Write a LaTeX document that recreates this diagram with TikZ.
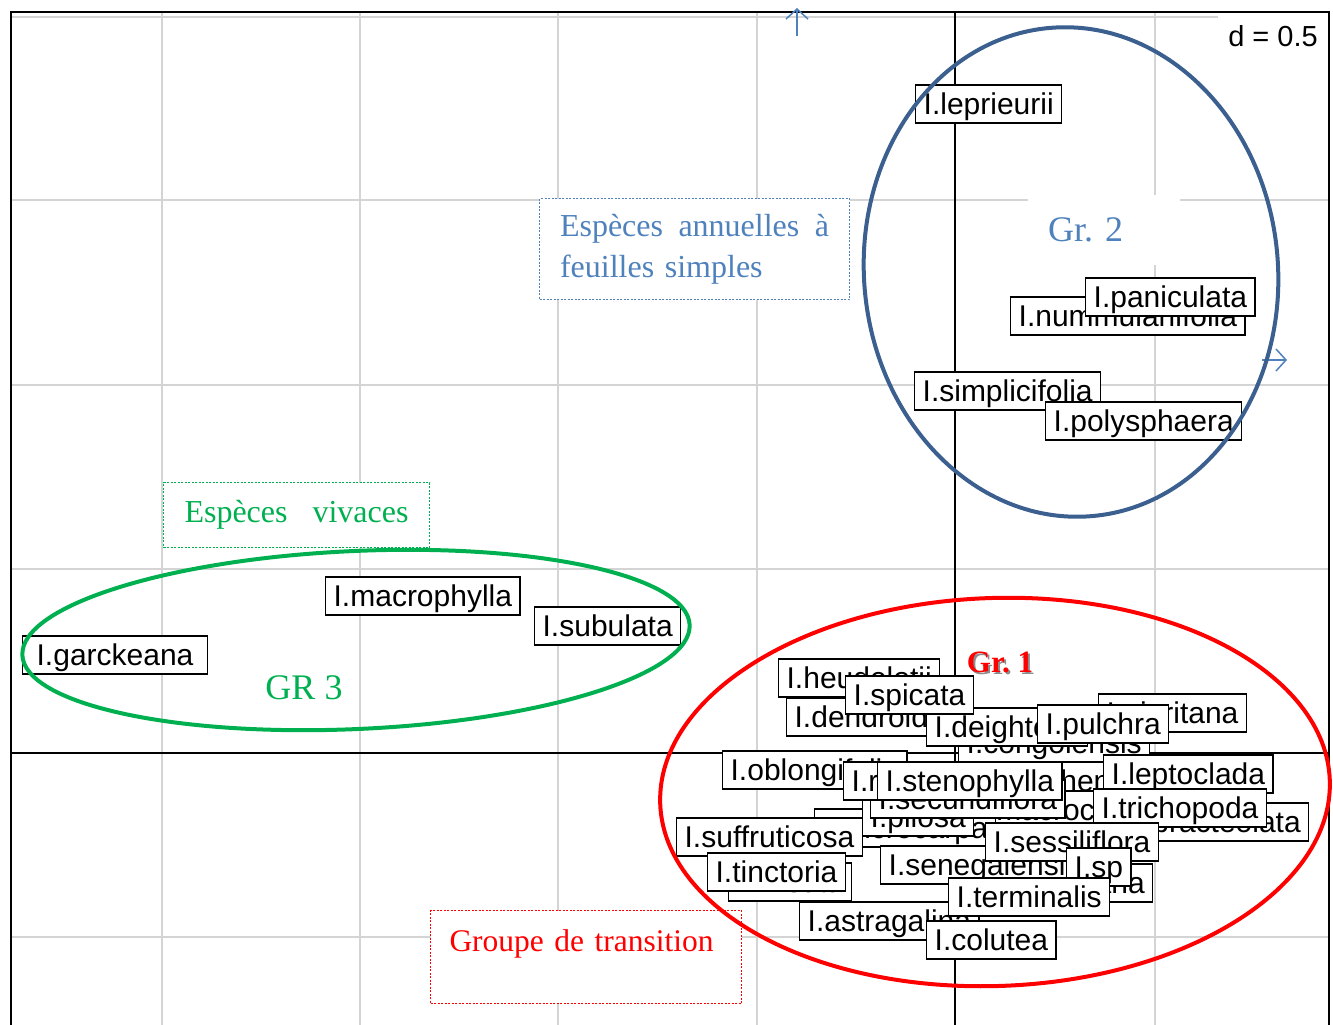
\documentclass[tikz,border=0pt]{standalone}
\usepackage{fontspec}
\setmainfont{Liberation Serif}
\setsansfont{Liberation Sans}
\usetikzlibrary{arrows.meta}
\definecolor{gridgray}{HTML}{D4D4D4}
\definecolor{annblue}{HTML}{4F81BD}
\definecolor{ellblue}{HTML}{3B5F8F}
\definecolor{vivgreen}{HTML}{00B050}
\definecolor{trred}{HTML}{FF0000}
\tikzset{
  spbox/.style={draw=black, line width=1.3pt, fill=white, anchor=west,
    font=\sffamily\fontsize{30}{36}\selectfont,
    inner xsep=8pt, inner ysep=5pt, text height=24pt, text depth=4pt},
  gridline/.style={draw=gridgray, line width=1.6pt},
  axline/.style={draw=black, line width=1.3pt},
  notebox/.style={fill=white, line width=1pt, dash pattern=on 2pt off 1.5pt,
    anchor=north west, font=\fontsize{32}{41}\selectfont, align=left},
  grouplabel/.style={font=\fontsize{36}{40}\selectfont},
  grpring/.style={line width=4pt},
  axarrow/.style={draw=annblue, line width=1.5pt, -{Straight Barb[length=10pt,width=22pt]}}
}
\begin{document}
\begin{tikzpicture}[x=1pt, y=-1pt]
\useasboundingbox (0,0) rectangle (1333,1025);
\foreach \gx in {162,360,558,757,1155} \draw[gridline] (\gx,12) -- (\gx,1026);
\foreach \gy in {17,200,385,569,937} \draw[gridline] (11,\gy) -- (1329,\gy);
\draw[axline] (955,12) -- (955,1026);
\draw[axline] (11,753) -- (1329,753);
\node[fill=white, font=\sffamily\fontsize{29}{32}\selectfont, inner xsep=10pt, minimum height=44pt] (dscale) at (1273,36) {d = 0.5};
\node[notebox, draw=annblue, text=annblue, text width=269pt, inner xsep=20.5pt, minimum height=101pt] (annuelles) at (539,198) {\makebox[269pt]{Espèces\hfill annuelles\hfill à}\\feuilles simples};
\node[notebox, draw=vivgreen, text=vivgreen, inner xsep=21pt, minimum height=65pt, minimum width=266pt] (vivaces) at (163,482) {\makebox[224pt]{Espèces\hfill vivaces}};
\node[notebox, draw=trred, text=trred, text width=273pt, inner xsep=19pt, inner ysep=4pt, text height=37pt, text depth=48pt, font=\fontsize{31.5}{41}\selectfont] (transition) at (430,910) {Groupe de transition};
\node[grouplabel, text=annblue, fill=white, anchor=west, text width=112pt, inner xsep=20pt, minimum height=70pt] (gr2) at (1028,230) {Gr.\ 2};
\node[grouplabel, text=vivgreen] (gr3) at (304,688) {GR 3};
\node[spbox] (leprieurii) at (915,104) {I.leprieurii};
\node[spbox] (nummulariifolia) at (1010,316) {I.nummulariifolia};
\node[spbox] (paniculata) at (1085,297) {I.paniculata};
\node[spbox] (simplicifolia) at (914,391) {I.simplicifolia};
\node[spbox] (polysphaera) at (1045,421) {I.polysphaera};
\node[spbox] (macrophylla) at (325,596) {I.macrophylla};
\node[spbox] (subulata) at (534,626) {I.subulata};
\node[spbox, inner xsep=14pt] (garckeana) at (22,655) {I.garckeana};
\node[spbox] (heudelotii) at (778,678) {I.heudelotii};
\node[spbox] (dendroides) at (786,717) {I.dendroides};
\node[spbox] (congolensis) at (958,743) {I.congolensis};
\node[spbox] (deightonii) at (926,727) {I.deightonii};
\node[spbox] (spicata) at (845,695) {I.spicata};
\node[spbox] (nigritana) at (1098,713) {I.nigritana};
\node[spbox] (pulchra) at (1037,724) {I.pulchra};
\node[spbox] (oblongifolia) at (722,770) {I.oblongifolia};
\node[spbox] (hendecaphylla) at (1035,781) {I.hendecaphylla};
\node[spbox] (macrocalyx) at (971,810) {I.macrocalyx};
\node[spbox] (microcarpa) at (814,828) {I.microcarpa};
\node[spbox] (pilosa) at (862,817) {I.pilosa};
\node[spbox] (secundiflora) at (870,799) {I.secundiflora};
\node[spbox] (rhynchocarpa) at (843,781) {I.rhynchocarpa};
\node[spbox] (stenophylla) at (877,781) {I.stenophylla};
\node[spbox] (leptoclada) at (1103,774) {I.leptoclada};
\node[spbox] (bracteolata) at (1127,822) {I.bracteolata};
\node[spbox] (trichopoda) at (1093,808) {I.trichopoda};
\node[spbox] (suffruticosa) at (676,837) {I.suffruticosa};
\node[spbox] (hirsuta) at (728,882) {I.hirsuta};
\node[spbox] (tinctoria) at (707,872) {I.tinctoria};
\node[spbox] (prieureana) at (976,883) {I.prieureana};
\node[spbox] (senegalensis) at (880,865) {I.senegalensis};
\node[spbox] (sessiliflora) at (985,842) {I.sessiliflora};
\node[spbox] (sp) at (1066,867) {I.sp};
\node[spbox] (astragalina) at (799,921) {I.astragalina};
\node[spbox] (terminalis) at (948,897) {I.terminalis};
\node[spbox] (colutea) at (926,940) {I.colutea};
\node[font=\bfseries\fontsize{31}{36}\selectfont, text=black!45] (gr1shadow) at (1002,664) {Gr.\ 1};
\node[font=\bfseries\fontsize{31}{36}\selectfont, text=trred] (gr1) at (1000,662) {Gr.\ 1};
\draw[axline] (11,1026) |- (1329,12) -- (1329,1026);
\coordinate (ytail) at (797,36);
\coordinate (yhead) at (797,8);
\coordinate (xtail) at (1262,360);
\coordinate (xhead) at (1287,360);
\draw[axarrow] (ytail) -- (yhead);
\draw[axarrow] (xtail) -- (xhead);
\draw[grpring, draw=ellblue, rotate around={5:(1071,272)}] (1071,272) ellipse [x radius=207, y radius=245];
\draw[grpring, draw=vivgreen, rotate around={2.6:(356,640)}] (356,640) ellipse [x radius=334, y radius=89];
\draw[grpring, draw=trred, rotate around={2:(995,792)}] (995,792) ellipse [x radius=335, y radius=194];
\end{tikzpicture}
\end{document}
